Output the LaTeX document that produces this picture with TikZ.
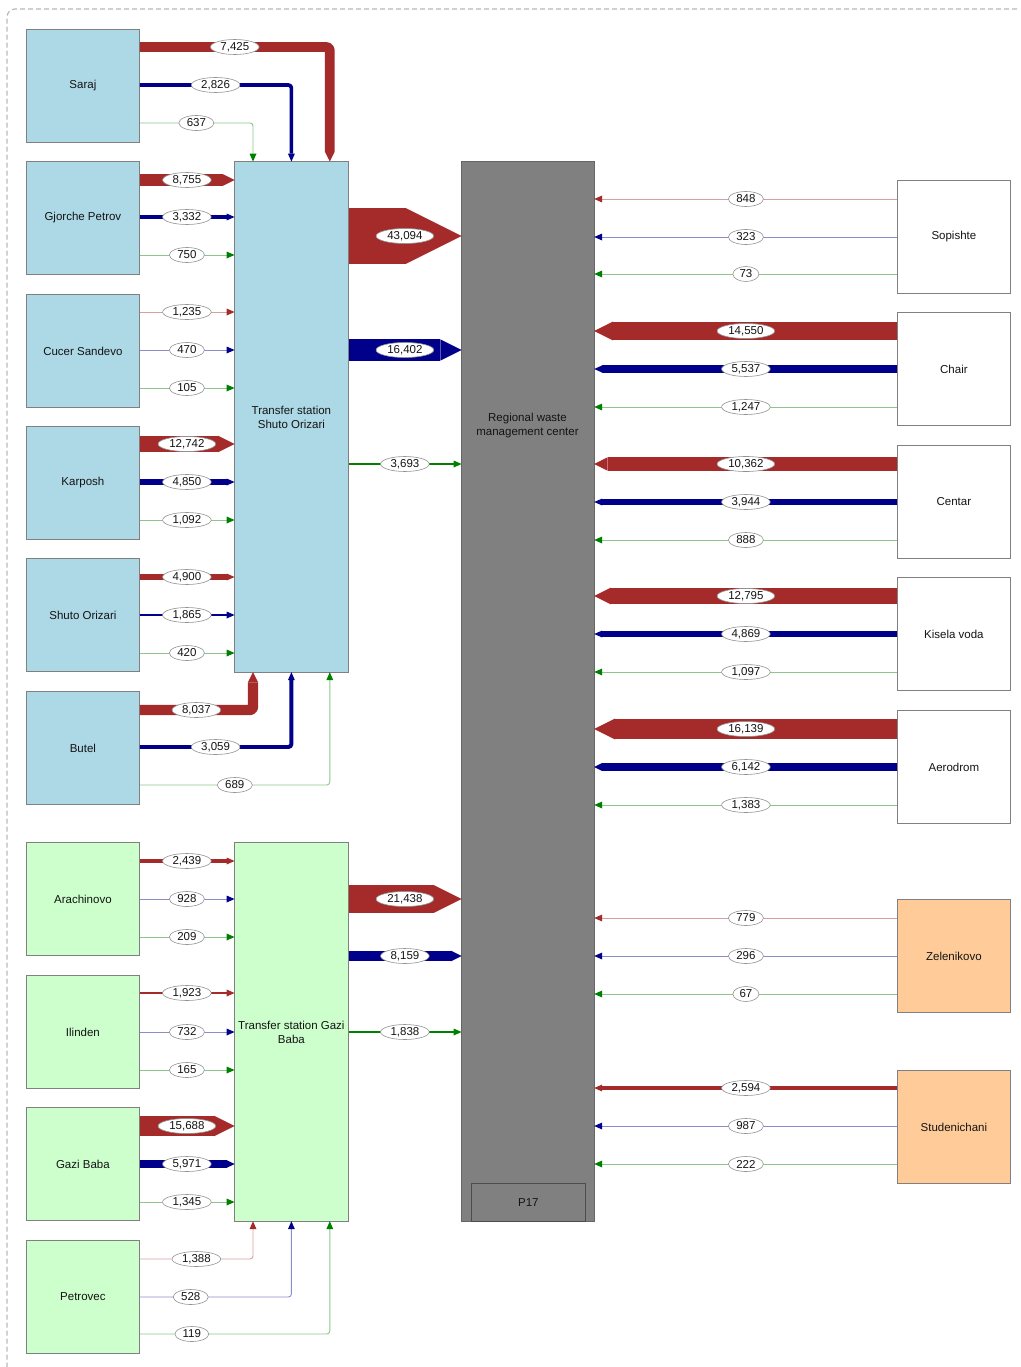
\documentclass[tikz,border=0pt]{standalone}
\usepackage{fontspec}
\setmainfont{Liberation Sans}
\usetikzlibrary{arrows.meta,shapes.geometric}
\definecolor{fR}{RGB}{165,42,42}
\definecolor{fB}{RGB}{0,0,139}
\definecolor{fG}{RGB}{0,128,0}
\definecolor{boxblue}{RGB}{173,216,230}
\definecolor{boxgreen}{RGB}{204,255,204}
\definecolor{boxpeach}{RGB}{255,204,153}
\definecolor{centergray}{RGB}{128,128,128}
\def\scfR{0.0013}\def\scfB{0.0013}\def\scfG{0.00055}
\newcommand\flowset[2]{%
  \edef\fw{\fpeval{max(round(#2*\csname sc#1\endcsname,3),1.5)}}%
  \edef\ftl{\fpeval{max(\fw,8)}}%
  \edef\ftw{\fpeval{max(\fw,7)}}%
  \def\ftc{#1}%
  \ifnum#2<1500 \def\fc{#1!45}\def\fw{0.9}\else\def\fc{#1}\fi
}
% #1 colour, #2 value, #3 source anchor, #4 offset, #5 target anchor, #6 text, #7 name
\newcommand\hflow[7]{%
  \coordinate (#7s) at ([yshift=-#4pt]#3);
  \flowset{#1}{#2}%
  \draw[flow] (#7s) -- (#7s -| #5) node[lab,pos=.5] (#7) {#6};
}
% #8 label position
\newcommand\lflow[8]{%
  \coordinate (#7s) at ([yshift=-#4pt]#3);
  \flowset{#1}{#2}%
  \draw[flow] (#7s) -| (#5) node[lab,pos=#8] (#7) {#6};
}
\begin{document}
\begin{tikzpicture}[x=1pt,y=-1pt,
  every node/.style={font=\fontsize{11.5}{14}\selectfont, text=black!92},
  box/.style={draw=gray, line width=0.8pt, anchor=north west, minimum width=113pt,
    minimum height=113pt, inner sep=1pt, align=center},
  bluebox/.style={box, fill=boxblue},
  greenbox/.style={box, fill=boxgreen},
  whitebox/.style={box, fill=white},
  peachbox/.style={box, fill=boxpeach},
  lab/.style={ellipse, draw=gray!85, fill=white, line width=0.6pt, inner xsep=2.8pt,
    inner ysep=0pt, minimum height=15pt},
  flow/.style={draw=\fc, line width=\fw pt, line join=round, rounded corners=3pt,
    -{Triangle[length=\ftl pt, width=\ftw pt, line width=0pt, sep=-0.6pt, color=\ftc]}},
  frame/.style={draw=gray!55, line width=1.2pt, dash pattern=on 5pt off 3pt, rounded corners=8pt}]
\useasboundingbox (0,0) rectangle (1020,1367);
\draw[frame] (1017,9) -- (7,9) -- (7,1380);

% left boxes
\node[bluebox] (saraj) at (26,29) {Saraj};
\node[bluebox] (gjorche) at (26,161) {Gjorche Petrov};
\node[bluebox] (cucer) at (26,294) {Cucer Sandevo};
\node[bluebox] (karposh) at (26,426) {Karposh};
\node[bluebox] (shuto) at (26,558) {Shuto Orizari};
\node[bluebox] (butel) at (26,691) {Butel};
\node[greenbox] (arach) at (26,842) {Arachinovo};
\node[greenbox] (ilinden) at (26,975) {Ilinden};
\node[greenbox] (gazibaba) at (26,1107) {Gazi Baba};
\node[greenbox] (petrovec) at (26,1240) {Petrovec};
% transfer stations
\node[bluebox, minimum width=114pt, minimum height=511pt] (tsso) at (234,161) {Transfer station\\Shuto Orizari};
\node[greenbox, minimum width=114pt, minimum height=379pt, inner sep=0pt] (tsgb) at (234,842) {Transfer station Gazi\\Baba};
% centre
\node[draw=black!60, line width=0.8pt, fill=centergray, anchor=north west, minimum width=133pt, minimum height=1060pt] (rwmc) at (461,161) {};
\node[align=center] (rwmctext) at (527.5,426) {Regional waste\\management center};
\node[draw=black!70, line width=0.8pt, fill=centergray, anchor=north west, minimum width=114pt, minimum height=38pt] (p17) at (471,1183) {P17};
% right boxes
\node[whitebox] (sopishte) at (897,180) {Sopishte};
\node[whitebox] (chair) at (897,312) {Chair};
\node[whitebox] (centar) at (897,445) {Centar};
\node[whitebox] (kisela) at (897,577) {Kisela voda};
\node[whitebox] (aerodrom) at (897,710) {Aerodrom};
\node[peachbox] (zeleni) at (897,899) {Zelenikovo};
\node[peachbox] (studen) at (897,1070) {Studenichani};

% Saraj
\lflow{fR}{7425}{saraj.north east}{18}{[xshift=-19pt]tsso.north east}{7,425}{l1}{.25}
\lflow{fB}{2826}{saraj.north east}{56}{tsso.north}{2,826}{l2}{.25}
\lflow{fG}{637}{saraj.north east}{94}{[xshift=19pt]tsso.north west}{637}{l3}{.25}
% Gjorche Petrov
\hflow{fR}{8755}{gjorche.north east}{19}{tsso.west}{8,755}{l4}
\hflow{fB}{3332}{gjorche.north east}{56}{tsso.west}{3,332}{l5}
\hflow{fG}{750}{gjorche.north east}{94}{tsso.west}{750}{l6}
% Cucer Sandevo
\hflow{fR}{1235}{cucer.north east}{18}{tsso.west}{1,235}{l7}
\hflow{fB}{470}{cucer.north east}{56}{tsso.west}{470}{l8}
\hflow{fG}{105}{cucer.north east}{94}{tsso.west}{105}{l9}
% Karposh
\hflow{fR}{12742}{karposh.north east}{18}{tsso.west}{12,742}{l10}
\hflow{fB}{4850}{karposh.north east}{56}{tsso.west}{4,850}{l11}
\hflow{fG}{1092}{karposh.north east}{94}{tsso.west}{1,092}{l12}
% Shuto Orizari
\hflow{fR}{4900}{shuto.north east}{19}{tsso.west}{4,900}{l13}
\hflow{fB}{1865}{shuto.north east}{57}{tsso.west}{1,865}{l14}
\hflow{fG}{420}{shuto.north east}{95}{tsso.west}{420}{l15}
% Butel
\lflow{fR}{8037}{butel.north east}{19}{[xshift=19pt]tsso.south west}{8,037}{l16}{.25}
\lflow{fB}{3059}{butel.north east}{56}{tsso.south}{3,059}{l17}{.25}
\lflow{fG}{689}{butel.north east}{94}{[xshift=-19pt]tsso.south east}{689}{l18}{.25}
% Transfer station Shuto Orizari -> centre
\hflow{fR}{43094}{tsso.north east}{75}{rwmc.west}{43,094}{l19}
\hflow{fB}{16402}{tsso.north east}{189}{rwmc.west}{16,402}{l20}
\hflow{fG}{3693}{tsso.north east}{303}{rwmc.west}{3,693}{l21}

% Arachinovo
\hflow{fR}{2439}{arach.north east}{19}{tsgb.west}{2,439}{l22}
\hflow{fB}{928}{arach.north east}{57}{tsgb.west}{928}{l23}
\hflow{fG}{209}{arach.north east}{95}{tsgb.west}{209}{l24}
% Ilinden
\hflow{fR}{1923}{ilinden.north east}{18}{tsgb.west}{1,923}{l25}
\hflow{fB}{732}{ilinden.north east}{57}{tsgb.west}{732}{l26}
\hflow{fG}{165}{ilinden.north east}{95}{tsgb.west}{165}{l27}
% Gazi Baba
\hflow{fR}{15688}{gazibaba.north east}{19}{tsgb.west}{15,688}{l28}
\hflow{fB}{5971}{gazibaba.north east}{57}{tsgb.west}{5,971}{l29}
\hflow{fG}{1345}{gazibaba.north east}{95}{tsgb.west}{1,345}{l30}
% Petrovec
\lflow{fR}{1388}{petrovec.north east}{19}{[xshift=19pt]tsgb.south west}{1,388}{l31}{.25}
\lflow{fB}{528}{petrovec.north east}{57}{tsgb.south}{528}{l32}{.168}
\lflow{fG}{119}{petrovec.north east}{94}{[xshift=-19pt]tsgb.south east}{119}{l33}{.137}
% Transfer station Gazi Baba -> centre
\hflow{fR}{21438}{tsgb.north east}{57}{rwmc.west}{21,438}{l34}
\hflow{fB}{8159}{tsgb.north east}{114}{rwmc.west}{8,159}{l35}
\hflow{fG}{1838}{tsgb.north east}{190}{rwmc.west}{1,838}{l36}

% right side
\hflow{fR}{848}{sopishte.north west}{19}{rwmc.east}{848}{r1}
\hflow{fB}{323}{sopishte.north west}{57}{rwmc.east}{323}{r2}
\hflow{fG}{73}{sopishte.north west}{94}{rwmc.east}{73}{r3}
\hflow{fR}{14550}{chair.north west}{19}{rwmc.east}{14,550}{r4}
\hflow{fB}{5537}{chair.north west}{57}{rwmc.east}{5,537}{r5}
\hflow{fG}{1247}{chair.north west}{95}{rwmc.east}{1,247}{r6}
\hflow{fR}{10362}{centar.north west}{19}{rwmc.east}{10,362}{r7}
\hflow{fB}{3944}{centar.north west}{57}{rwmc.east}{3,944}{r8}
\hflow{fG}{888}{centar.north west}{95}{rwmc.east}{888}{r9}
\hflow{fR}{12795}{kisela.north west}{19}{rwmc.east}{12,795}{r10}
\hflow{fB}{4869}{kisela.north west}{57}{rwmc.east}{4,869}{r11}
\hflow{fG}{1097}{kisela.north west}{95}{rwmc.east}{1,097}{r12}
\hflow{fR}{16139}{aerodrom.north west}{19}{rwmc.east}{16,139}{r13}
\hflow{fB}{6142}{aerodrom.north west}{57}{rwmc.east}{6,142}{r14}
\hflow{fG}{1383}{aerodrom.north west}{95}{rwmc.east}{1,383}{r15}
\hflow{fR}{779}{zeleni.north west}{19}{rwmc.east}{779}{r16}
\hflow{fB}{296}{zeleni.north west}{57}{rwmc.east}{296}{r17}
\hflow{fG}{67}{zeleni.north west}{95}{rwmc.east}{67}{r18}
\hflow{fR}{2594}{studen.north west}{18}{rwmc.east}{2,594}{r19}
\hflow{fB}{987}{studen.north west}{56}{rwmc.east}{987}{r20}
\hflow{fG}{222}{studen.north west}{94}{rwmc.east}{222}{r21}
\end{tikzpicture}
\end{document}
